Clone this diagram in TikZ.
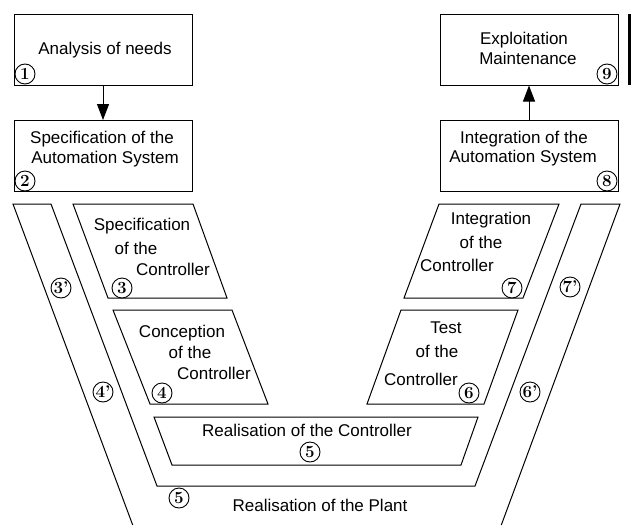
\documentclass[tikz,border=0pt]{standalone}
\usepackage{fontspec}
\newfontfamily\labelfont{Liberation Sans}
\usetikzlibrary{arrows.meta}

\begin{document}
\begin{tikzpicture}[x=1pt,y=-1pt,
	box/.style={draw, line width=1pt, minimum width=178pt, minimum height=71pt, inner sep=0pt},
	lbl/.style={font=\labelfont\fontsize{17}{20}\selectfont, anchor=base, inner sep=0pt},
	num/.style={circle, draw, line width=0.9pt, minimum size=20pt, inner sep=0pt, fill=white, font=\bfseries\fontsize{17}{17}\selectfont},
	arr/.style={line width=1pt, -{Triangle[length=16pt,width=12pt]}},
	outline/.style={line width=1pt, line join=miter}]
		\useasboundingbox (0,0) rectangle (631,525);
		
		\node[box] (b1) at (103,49.5) {};
		\node[box] (b2) at (103,156) {};
		\node[box] (b8) at (529,156) {};
		\node[box] (b9) at (529,49.5) {};
		\draw[line width=3pt] (629.5,14) -- (629.5,85);
		
		\draw[arr] (b1) -- (b2);
		\draw[arr] (b8) -- (b9);
		
		\node[lbl] (t1) at (105,54) {Analysis of needs};
		\node[lbl] (t21) at (102,143) {Specification of the};
		\node[lbl] (t22) at (105,163) {Automation System};
		\node[lbl] (t91) at (524,44) {Exploitation};
		\node[lbl] (t92) at (528,64) {Maintenance};
		\node[lbl] (t81) at (524,143) {Integration of the};
		\node[lbl] (t82) at (523,162) {Automation System};
		
		\draw[outline] (132.7,525) -- (13,204) -- (51,204) -- (157,486) -- (475,486) -- (581,204) -- (620,204) -- (501.3,525);
		\draw[outline] (73,204) -- (193,204) -- (227,298) -- (108,298) -- cycle;
		\draw[outline] (113,310) -- (232,310) -- (268,404) -- (150,404) -- cycle;
		\draw[outline] (154,417) -- (478,417) -- (461,465) -- (172,465) -- cycle;
		\draw[outline] (401,310) -- (518,310) -- (484,404) -- (367,404) -- cycle;
		\draw[outline] (439,204) -- (559,204) -- (523,298) -- (404,298) -- cycle;
		
		\node[lbl] (t31) at (142,230) {Specification};
		\node[lbl] (t32) at (136,254) {of the};
		\node[lbl] (t33) at (173,275) {Controller};
		\node[lbl] (t41) at (182,337) {Conception};
		\node[lbl] (t42) at (190,358) {of the};
		\node[lbl] (t43) at (214,379) {Controller};
		\node[lbl] (t5) at (307,436) {Realisation of the Controller};
		\node[lbl] (t5p) at (320,511) {Realisation of the Plant};
		\node[lbl] (t61) at (446,333) {Test};
		\node[lbl] (t62) at (437,357) {of the};
		\node[lbl] (t63) at (421,385) {Controller};
		\node[lbl] (t71) at (491,224) {Integration};
		\node[lbl] (t72) at (481,248) {of the};
		\node[lbl] (t73) at (457,271) {Controller};
		
		\node[num] (n1) at (25,74) {1};
		\node[num] (n2) at (25,181) {2};
		\node[num] (n3) at (122,288) {3};
		\node[num] (n4) at (162,393) {4};
		\node[num] (n5) at (310,452) {5};
		\node[num] (n6) at (469,393) {6};
		\node[num] (n7) at (512,288) {7};
		\node[num] (n8) at (607,181) {8};
		\node[num] (n9) at (607,74) {9};
		\node[num] (n3p) at (61,288) {3'};
		\node[num] (n4p) at (103,392) {4'};
		\node[num] (n5p) at (179,498) {5};
		\node[num] (n6p) at (530,392) {6'};
		\node[num] (n7p) at (570,287) {7'};
\end{tikzpicture}
\end{document}
